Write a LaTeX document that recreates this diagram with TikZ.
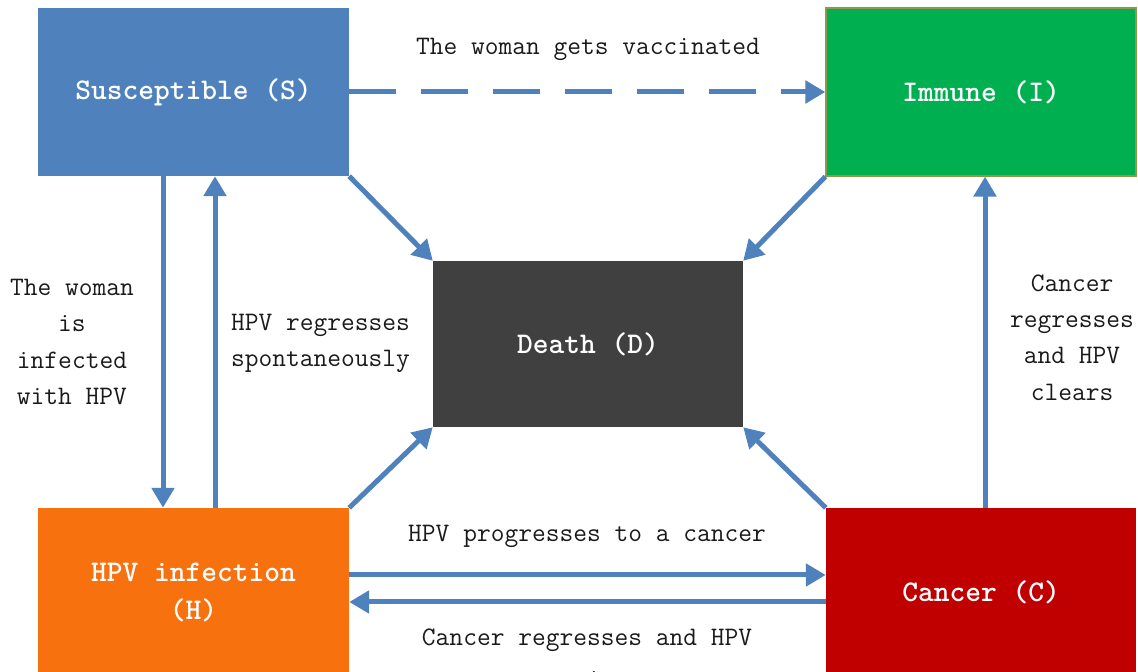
\documentclass[tikz,border=0pt]{standalone}
\usepackage{fontspec}
\usetikzlibrary{arrows.meta}
\definecolor{sblue}{HTML}{4F81BD}
\definecolor{arrowblue}{HTML}{4F81BD}
\definecolor{igreen}{HTML}{00B050}
\definecolor{iedge}{HTML}{8A9A4A}
\definecolor{dgray}{HTML}{404040}
\definecolor{horange}{HTML}{F7710E}
\definecolor{cred}{HTML}{C00000}
\definecolor{labelink}{HTML}{1A1A1A}
\begin{document}
\begin{tikzpicture}[x=1pt,y=1pt,
  state/.style={rectangle, inner sep=0pt, minimum width=311pt, minimum height=168pt,
    text=white, align=center, font=\fontsize{30}{38}\selectfont\ttfamily\bfseries},
  flow/.style={draw=arrowblue, line width=5pt, -{Triangle[length=20pt,width=22pt]}},
  note/.style={text=labelink, align=center, inner sep=0pt,
    font=\fontsize{26.7}{36.3}\selectfont\ttfamily}]
\path[use as bounding box] (0,0) rectangle (1138,672);
\clip (0,0) rectangle (1138,672);

% compartments
\node[state, fill=sblue] (S) at (193.5,580) {Susceptible (S)};
\node[state, fill=igreen, draw=iedge, line width=1.2pt, minimum width=310pt] (I) at (981,580) {Immune (I)};
\node[state, fill=dgray, minimum width=310pt, minimum height=166pt] (D) at (588,328) {Death (D)};
\node[state, fill=horange] (H) at (193.5,80) {HPV infection\\(H)};
\node[state, fill=cred, minimum width=310pt] (C) at (981,80) {Cancer (C)};

% transitions
\draw[flow, dash pattern=on 47pt off 25pt] (S.east) -- (I.west);
\draw[flow] ([xshift=-30.5pt]S.south) -- ([xshift=-30.5pt]H.north);
\draw[flow] ([xshift=21.5pt]H.north) -- ([xshift=21.5pt]S.south);
\draw[flow] ([yshift=17pt]H.east) -- ([yshift=17pt]C.west);
\draw[flow] ([yshift=-10pt]C.west) -- ([yshift=-10pt]H.east);
\draw[flow] ([xshift=4pt]C.north) -- ([xshift=4pt]I.south);
\draw[flow] (S.south east) -- (D.north west);
\draw[flow] (I.south west) -- (D.north east);
\draw[flow] (H.north east) -- (D.south west);
\draw[flow] (C.north west) -- (D.south east);

% transition labels
\node[note] (lv) at (588,623) {The woman gets vaccinated};
\node[note] (li) at (72,330) {The woman\\is\\infected\\with HPV};
\node[note, align=left] (lr) at (320.5,328.5) {HPV regresses\\spontaneously};
\node[note] (lc) at (1072,334.5) {Cancer\\regresses\\and HPV\\clears};
\node[note] (lp) at (587,136) {HPV progresses to a cancer};
\node[note, anchor=base] (lb) at (587,-16) {Cancer regresses and HPV\\[6pt]persists};
\end{tikzpicture}
\end{document}
